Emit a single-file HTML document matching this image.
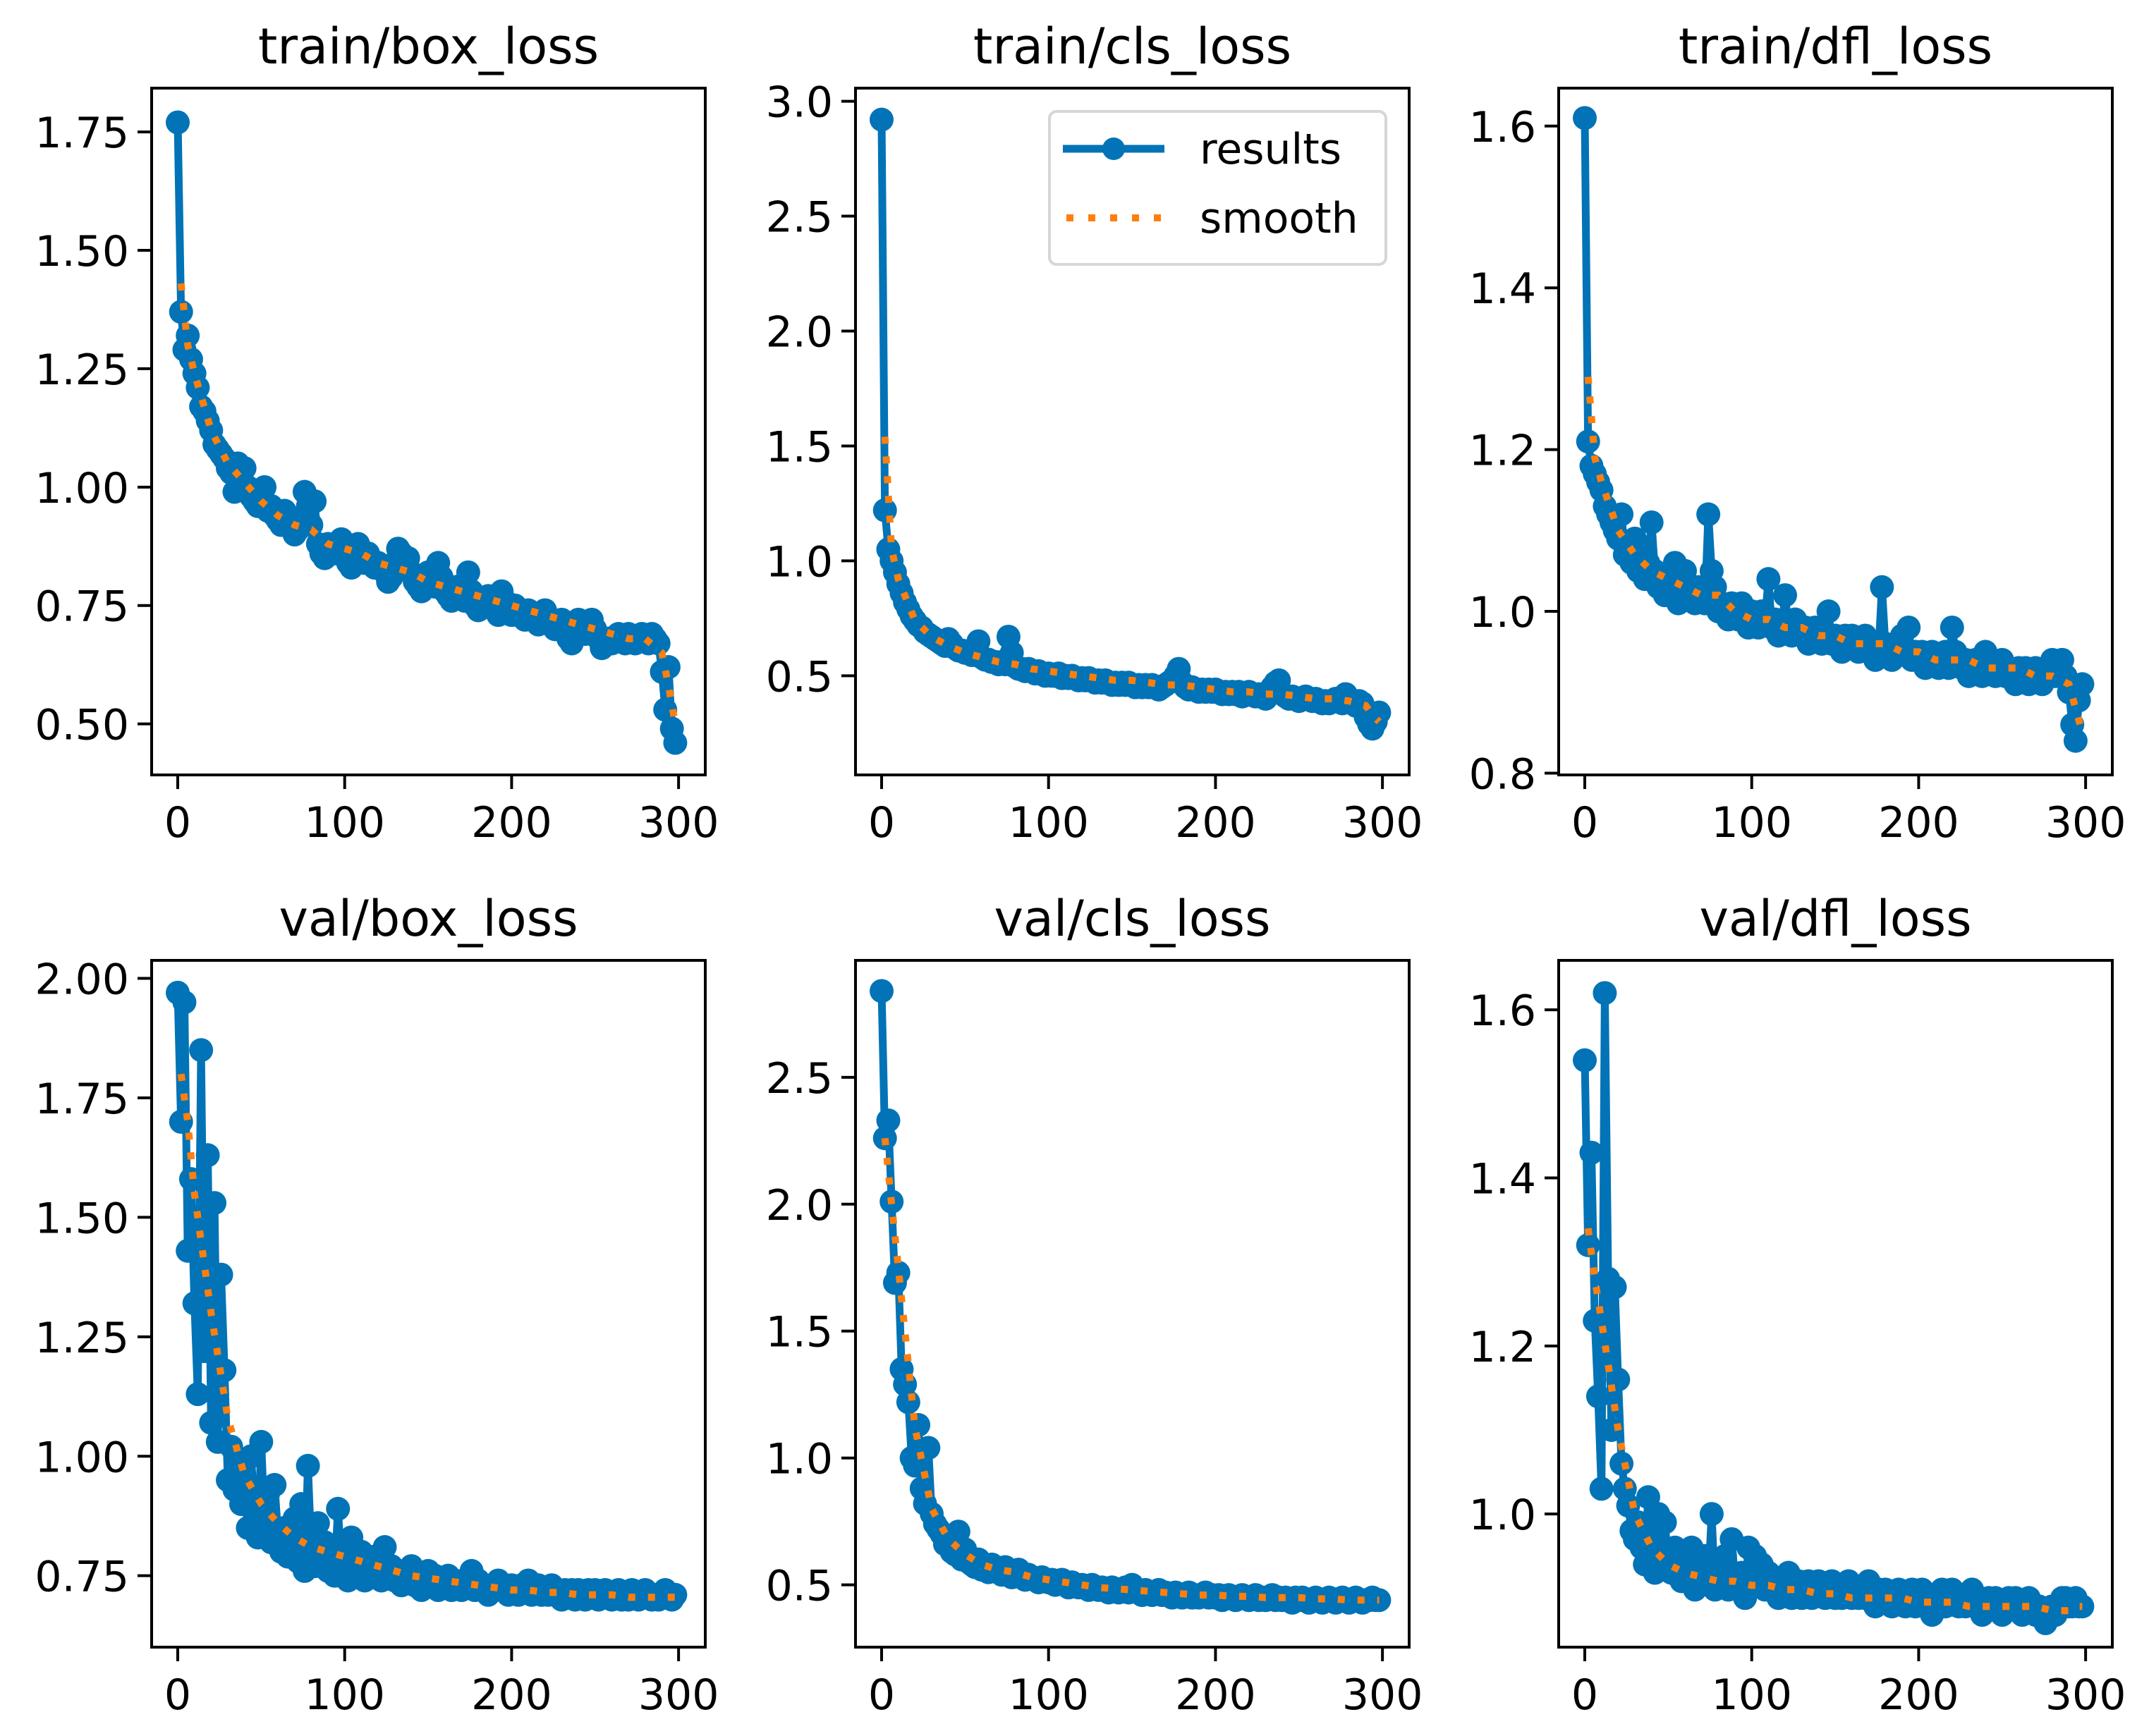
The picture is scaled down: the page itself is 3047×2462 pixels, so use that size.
<!DOCTYPE html>
<html><head><meta charset="utf-8"><style>
html,body{margin:0;padding:0;background:#fff}
svg{display:block}
text{font-family:"DejaVu Sans","Liberation Sans",sans-serif;fill:#000}
</style></head><body>
<svg id="fig" xmlns="http://www.w3.org/2000/svg" width="3047" height="2462" viewBox="0 0 3047 2462">
<rect width="3047" height="2462" fill="#fff"/>
</svg>
<script>
const xTicks = [0, 100, 200, 300];
const epochStep = 2;
const smoothEpochs = [2,6,10,20,30,40,50,60,70,80,90,100,110,120,130,140,150,160,170,180,190,200,210,220,230,240,250,260,270,280,290,294,298];

const trainBoxLoss = [1.77,1.37,1.29,1.32,1.27,1.24,1.21,1.17,1.16,1.14,1.12,1.09,1.08,1.07,1.06,1.04,1.03,0.99,1.05,1.02,1.04,1.00,0.98,0.97,0.96,0.97,1.00,0.95,0.96,0.94,0.93,0.92,0.95,0.94,0.92,0.90,0.91,0.93,0.99,0.96,0.92,0.97,0.88,0.86,0.85,0.88,0.87,0.86,0.87,0.89,0.86,0.84,0.83,0.87,0.88,0.85,0.84,0.86,0.84,0.83,0.84,0.83,0.82,0.80,0.81,0.84,0.87,0.86,0.83,0.85,0.82,0.80,0.79,0.78,0.81,0.82,0.80,0.79,0.84,0.81,0.78,0.77,0.76,0.78,0.79,0.77,0.76,0.82,0.78,0.75,0.74,0.76,0.75,0.77,0.75,0.74,0.73,0.78,0.76,0.74,0.73,0.75,0.74,0.73,0.72,0.74,0.73,0.72,0.71,0.73,0.74,0.72,0.71,0.70,0.71,0.72,0.70,0.68,0.67,0.70,0.72,0.71,0.69,0.70,0.72,0.70,0.68,0.66,0.67,0.68,0.67,0.68,0.69,0.68,0.67,0.69,0.68,0.67,0.68,0.69,0.68,0.67,0.69,0.68,0.67,0.61,0.53,0.62,0.49,0.46];
const trainBoxSmooth = [1.43,1.30,1.24,1.12,1.05,1.01,0.97,0.94,0.92,0.91,0.88,0.87,0.86,0.84,0.83,0.82,0.80,0.79,0.78,0.77,0.76,0.75,0.74,0.73,0.72,0.71,0.70,0.69,0.68,0.68,0.65,0.58,0.50];

const trainClsLoss = [2.92,1.22,1.05,1.00,0.95,0.90,0.86,0.82,0.79,0.76,0.74,0.72,0.71,0.69,0.68,0.67,0.66,0.65,0.64,0.63,0.66,0.64,0.62,0.61,0.61,0.60,0.60,0.59,0.60,0.65,0.58,0.57,0.57,0.56,0.56,0.55,0.56,0.55,0.67,0.60,0.54,0.53,0.53,0.52,0.53,0.52,0.51,0.52,0.51,0.50,0.51,0.50,0.50,0.51,0.49,0.50,0.49,0.50,0.49,0.48,0.49,0.48,0.49,0.48,0.47,0.48,0.47,0.48,0.47,0.46,0.47,0.46,0.47,0.46,0.47,0.46,0.45,0.46,0.45,0.46,0.45,0.46,0.45,0.44,0.45,0.46,0.47,0.48,0.50,0.53,0.47,0.45,0.44,0.45,0.44,0.43,0.44,0.43,0.44,0.43,0.44,0.43,0.42,0.43,0.42,0.43,0.42,0.43,0.41,0.42,0.43,0.42,0.41,0.42,0.41,0.40,0.42,0.45,0.47,0.48,0.42,0.41,0.40,0.41,0.40,0.39,0.40,0.41,0.40,0.39,0.40,0.39,0.38,0.39,0.38,0.39,0.40,0.39,0.38,0.42,0.40,0.38,0.37,0.39,0.38,0.32,0.29,0.27,0.30,0.34];
const trainClsSmooth = [1.54,1.05,0.92,0.74,0.67,0.63,0.60,0.58,0.56,0.55,0.53,0.52,0.51,0.50,0.49,0.48,0.48,0.47,0.46,0.46,0.45,0.44,0.43,0.43,0.42,0.42,0.41,0.40,0.40,0.39,0.37,0.33,0.30];

const trainDflLoss = [1.61,1.21,1.18,1.17,1.16,1.15,1.13,1.12,1.11,1.10,1.09,1.12,1.07,1.08,1.06,1.09,1.05,1.07,1.04,1.06,1.11,1.05,1.03,1.04,1.02,1.04,1.03,1.06,1.01,1.02,1.05,1.03,1.02,1.01,1.03,1.02,1.01,1.12,1.05,1.03,1.00,1.01,1.00,0.99,1.01,1.00,0.99,1.01,0.99,0.98,1.00,0.99,0.98,1.00,0.99,1.04,0.98,0.99,0.97,0.98,1.02,0.98,0.97,0.99,0.98,0.97,0.98,0.96,0.97,0.98,0.97,0.96,0.97,1.00,0.96,0.97,0.96,0.95,0.97,0.96,0.97,0.96,0.95,0.96,0.97,0.95,0.96,0.94,0.95,1.03,0.96,0.95,0.94,0.95,0.96,0.97,0.95,0.98,0.94,0.95,0.94,0.95,0.93,0.94,0.95,0.94,0.93,0.94,0.95,0.93,0.98,0.95,0.94,0.93,0.94,0.92,0.93,0.94,0.93,0.92,0.95,0.94,0.93,0.92,0.93,0.94,0.92,0.93,0.92,0.91,0.93,0.92,0.93,0.91,0.92,0.93,0.92,0.91,0.93,0.92,0.94,0.92,0.93,0.94,0.92,0.90,0.86,0.84,0.89,0.91];
const trainDflSmooth = [1.29,1.19,1.16,1.10,1.07,1.05,1.04,1.03,1.02,1.02,1.00,0.99,0.99,0.98,0.98,0.97,0.97,0.96,0.96,0.96,0.95,0.95,0.94,0.94,0.94,0.93,0.93,0.93,0.92,0.92,0.91,0.88,0.85];

const valBoxLoss = [1.97,1.70,1.95,1.43,1.58,1.32,1.13,1.85,1.22,1.63,1.07,1.53,1.03,1.38,1.18,0.95,1.02,0.93,0.98,0.90,0.95,0.85,1.00,0.88,0.83,1.03,0.86,0.92,0.82,0.94,0.84,0.80,0.85,0.79,0.82,0.87,0.78,0.90,0.76,0.98,0.80,0.77,0.86,0.78,0.82,0.76,0.79,0.75,0.89,0.77,0.81,0.74,0.83,0.78,0.76,0.80,0.74,0.77,0.75,0.79,0.76,0.74,0.81,0.75,0.77,0.74,0.76,0.73,0.75,0.74,0.77,0.73,0.75,0.72,0.74,0.76,0.73,0.75,0.72,0.74,0.73,0.75,0.72,0.74,0.73,0.72,0.74,0.73,0.76,0.72,0.74,0.73,0.72,0.71,0.73,0.72,0.74,0.73,0.72,0.71,0.73,0.72,0.71,0.73,0.72,0.74,0.71,0.72,0.73,0.71,0.72,0.71,0.73,0.72,0.71,0.70,0.72,0.71,0.72,0.70,0.72,0.71,0.70,0.72,0.71,0.72,0.70,0.71,0.72,0.71,0.70,0.71,0.72,0.70,0.71,0.70,0.72,0.71,0.70,0.71,0.72,0.71,0.70,0.71,0.70,0.71,0.72,0.71,0.70,0.71];
const valBoxSmooth = [1.80,1.70,1.55,1.30,1.08,0.96,0.90,0.86,0.83,0.81,0.80,0.79,0.78,0.77,0.76,0.75,0.745,0.74,0.735,0.73,0.725,0.72,0.72,0.715,0.715,0.71,0.71,0.71,0.705,0.705,0.705,0.705,0.705];

const valClsLoss = [2.84,2.26,2.33,2.01,1.69,1.73,1.35,1.29,1.22,1.00,0.97,1.13,0.88,0.82,1.04,0.78,0.74,0.72,0.70,0.66,0.68,0.63,0.62,0.71,0.60,0.64,0.59,0.58,0.57,0.60,0.56,0.57,0.55,0.58,0.56,0.55,0.54,0.57,0.55,0.53,0.54,0.56,0.53,0.52,0.54,0.53,0.52,0.51,0.53,0.52,0.51,0.52,0.50,0.51,0.52,0.50,0.49,0.51,0.50,0.49,0.50,0.49,0.48,0.50,0.49,0.48,0.49,0.48,0.47,0.49,0.48,0.47,0.48,0.49,0.47,0.50,0.48,0.47,0.46,0.48,0.47,0.46,0.47,0.48,0.46,0.47,0.46,0.45,0.47,0.46,0.45,0.46,0.47,0.45,0.46,0.45,0.46,0.47,0.45,0.46,0.45,0.46,0.44,0.45,0.46,0.45,0.44,0.45,0.46,0.45,0.44,0.45,0.46,0.44,0.45,0.44,0.45,0.46,0.44,0.45,0.44,0.45,0.44,0.43,0.45,0.44,0.45,0.44,0.43,0.44,0.45,0.44,0.43,0.44,0.45,0.44,0.43,0.44,0.45,0.44,0.43,0.44,0.45,0.44,0.43,0.44,0.44,0.45,0.44,0.44];
const valClsSmooth = [2.26,2.00,1.75,1.12,0.80,0.68,0.62,0.58,0.56,0.55,0.53,0.52,0.51,0.50,0.49,0.485,0.48,0.475,0.47,0.465,0.46,0.46,0.455,0.455,0.45,0.45,0.45,0.445,0.445,0.44,0.44,0.44,0.44];

const valDflLoss = [1.54,1.32,1.43,1.23,1.14,1.03,1.62,1.28,1.10,1.27,1.16,1.06,1.03,1.01,0.98,0.97,0.99,0.96,0.94,1.02,0.97,0.93,1.00,0.95,0.99,0.94,0.93,0.96,0.94,0.92,0.95,0.93,0.96,0.91,0.93,0.92,0.95,0.92,1.00,0.91,0.93,0.92,0.95,0.91,0.97,0.92,0.91,0.93,0.90,0.96,0.93,0.95,0.92,0.94,0.91,0.93,0.92,0.91,0.90,0.92,0.91,0.93,0.90,0.91,0.92,0.90,0.91,0.92,0.90,0.91,0.92,0.91,0.90,0.91,0.92,0.90,0.91,0.90,0.91,0.92,0.90,0.91,0.90,0.91,0.90,0.92,0.90,0.89,0.91,0.90,0.91,0.90,0.89,0.90,0.91,0.90,0.89,0.90,0.91,0.89,0.90,0.91,0.89,0.90,0.88,0.89,0.90,0.91,0.89,0.90,0.91,0.90,0.89,0.90,0.89,0.90,0.91,0.90,0.89,0.88,0.89,0.90,0.89,0.90,0.89,0.88,0.89,0.90,0.89,0.90,0.89,0.88,0.89,0.90,0.89,0.88,0.89,0.88,0.87,0.88,0.89,0.88,0.89,0.90,0.90,0.89,0.89,0.90,0.89,0.89];
const valDflSmooth = [1.34,1.28,1.23,1.10,1.00,0.96,0.94,0.93,0.925,0.92,0.92,0.915,0.915,0.91,0.91,0.905,0.905,0.90,0.90,0.90,0.90,0.895,0.895,0.895,0.89,0.89,0.89,0.89,0.89,0.885,0.885,0.89,0.89];

const yTicksTrainBox = [0.50,0.75,1.00,1.25,1.50,1.75];
const yTicksTrainCls = [0.5,1.0,1.5,2.0,2.5,3.0];
const yTicksTrainDfl = [0.8,1.0,1.2,1.4,1.6];
const yTicksValBox = [0.75,1.00,1.25,1.50,1.75,2.00];
const yTicksValCls = [0.5,1.0,1.5,2.0,2.5];
const yTicksValDfl = [1.0,1.2,1.4,1.6];

const NS = 'http://www.w3.org/2000/svg';
const svg = document.getElementById('fig');
const BLUE = '#0173b6', ORANGE = '#ff7f0e';
const AXW = 785, AXH = 974;
const XMIN = -15.63, XMAX = 316.0;

function mk(tag, attrs, parent) {
  const e = document.createElementNS(NS, tag);
  for (const k in attrs) e.setAttribute(k, attrs[k]);
  (parent || svg).appendChild(e);
  return e;
}

const panels = [
  {key:'train-box-loss', title:'train/box_loss', left:215, top:125, ymin:0.3923, ymax:1.8424, ticks:yTicksTrainBox, dec:2, vals:trainBoxLoss, smooth:trainBoxSmooth},
  {key:'train-cls-loss', title:'train/cls_loss', left:1213, top:125, ymin:0.0685, ymax:3.057, ticks:yTicksTrainCls, dec:1, vals:trainClsLoss, smooth:trainClsSmooth},
  {key:'train-dfl-loss', title:'train/dfl_loss', left:2210, top:125, ymin:0.7978, ymax:1.6469, ticks:yTicksTrainDfl, dec:1, vals:trainDflLoss, smooth:trainDflSmooth},
  {key:'val-box-loss', title:'val/box_loss', left:215, top:1362, ymin:0.6005, ymax:2.0377, ticks:yTicksValBox, dec:2, vals:valBoxLoss, smooth:valBoxSmooth},
  {key:'val-cls-loss', title:'val/cls_loss', left:1213, top:1362, ymin:0.2546, ymax:2.9607, ticks:yTicksValCls, dec:1, vals:valClsLoss, smooth:valClsSmooth},
  {key:'val-dfl-loss', title:'val/dfl_loss', left:2210, top:1362, ymin:0.8415, ymax:1.6589, ticks:yTicksValDfl, dec:1, vals:valDflLoss, smooth:valDflSmooth}
];

panels.forEach(p => {
  const g = mk('g', {});
  
  
  const xs = v => p.left + (v - XMIN) / (XMAX - XMIN) * AXW;
  const ys = v => p.top + (p.ymax - v) / (p.ymax - p.ymin) * AXH;

  const t = mk('text', {x: p.left + AXW/2, y: p.top - 35, 'font-size': 70, 'text-anchor': 'middle'}, g);
  t.textContent = p.title;
  
  

  xTicks.forEach(v => {
    const x = xs(v);
    const tk = mk('line', {x1:x, x2:x, y1:p.top+AXH, y2:p.top+AXH+20, stroke:'#000', 'stroke-width':4}, g);
    
    
    const lb = mk('text', {x:x, y:p.top+AXH+88, 'font-size':60, 'text-anchor':'middle'}, g);
    lb.textContent = String(v);
    
    
  });
  p.ticks.forEach(v => {
    const y = ys(v);
    const tk = mk('line', {x1:p.left-20, x2:p.left, y1:y, y2:y, stroke:'#000', 'stroke-width':4}, g);
    
    
    const lb = mk('text', {x:p.left-32, y:y+22, 'font-size':60, 'text-anchor':'end'}, g);
    lb.textContent = v.toFixed(p.dec);
    
    
  });

  const cp = mk('clipPath', {id:'clip-' + p.key}, g);
  mk('rect', {x:p.left, y:p.top, width:AXW, height:AXH}, cp);
  const plot = mk('g', {'clip-path':'url(#clip-' + p.key + ')'}, g);

  const pts = p.vals.map((v,i) => xs(i*epochStep).toFixed(1) + ',' + ys(v).toFixed(1)).join(' ');
  const line = mk('polyline', {points:pts, fill:'none', stroke:BLUE, 'stroke-width':11, 'stroke-linejoin':'round'}, plot);
  
  
  p.vals.forEach((v,i) => {
    const c = mk('circle', {cx:xs(i*epochStep), cy:ys(v), r:17, fill:BLUE}, plot);
    
    
  });
  const sp = p.smooth.map((v,i) => xs(smoothEpochs[i]).toFixed(1) + ',' + ys(v).toFixed(1)).join(' ');
  const sl = mk('polyline', {points:sp, fill:'none', stroke:ORANGE, 'stroke-width':10, 'stroke-dasharray':'10 18'}, plot);
  
  

  const fr = mk('rect', {x:p.left, y:p.top, width:AXW, height:AXH, fill:'none', stroke:'#000', 'stroke-width':4}, g);
  
  
});

const lg = mk('g', {});


mk('rect', {x:1488, y:158, width:477, height:217, rx:10, fill:'#fff', 'fill-opacity':0.85, stroke:'#d6d6d6', 'stroke-width':4}, lg);
const l1 = mk('line', {x1:1507, x2:1651, y1:211, y2:211, stroke:BLUE, 'stroke-width':11}, lg);


mk('circle', {cx:1579, cy:211, r:16, fill:BLUE}, lg);
const t1 = mk('text', {x:1701, y:232, 'font-size':60}, lg);
t1.textContent = 'results';


const l2 = mk('line', {x1:1512, x2:1651, y1:309, y2:309, stroke:ORANGE, 'stroke-width':10, 'stroke-dasharray':'10 21'}, lg);


const t2 = mk('text', {x:1701, y:330, 'font-size':60}, lg);
t2.textContent = 'smooth';


</script>
</body></html>
